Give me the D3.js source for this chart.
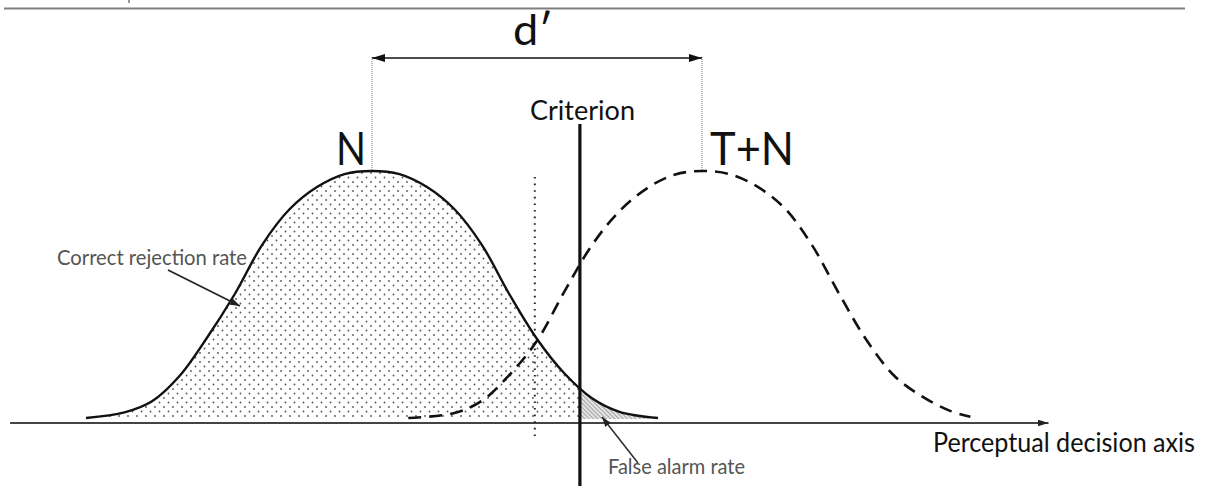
<!DOCTYPE html>
<html>
<head>
<meta charset="utf-8">
<script src="https://cdn.jsdelivr.net/npm/d3@7"></script>
<style>
  html, body { margin: 0; padding: 0; background: #fff; }
  svg { display: block; }
  text { font-family: Lato, "Open Sans", sans-serif; }
</style>
</head>
<body>
<svg id="chart" width="1213" height="486"></svg>
<script>
// decision axis in d' units, density
const noiseX = [-2.6, -2.25, -2, -1.75, -1.5, -1.25, -1, -0.75, -0.5, -0.25, 0, 0.25, 0.5, 0.75, 1, 1.25, 1.5, 1.75, 2, 2.25, 2.6];
const noiseY = [0, 0.009, 0.027, 0.068, 0.13, 0.2, 0.28, 0.338, 0.374, 0.395, 0.4, 0.395, 0.374, 0.338, 0.28, 0.2, 0.128, 0.072, 0.032, 0.01, 0];

const signalX = [0.33, 0.75, 1, 1.25, 1.5, 1.75, 2, 2.25, 2.5, 2.75, 3, 3.25, 3.5, 3.75, 4, 4.25, 4.5, 4.75, 5, 5.25, 5.44];
const signalY = [0, 0.008, 0.028, 0.07, 0.125, 0.205, 0.28, 0.335, 0.372, 0.394, 0.4, 0.395, 0.375, 0.34, 0.28, 0.2, 0.125, 0.068, 0.035, 0.012, 0.002];

const means = [0, 3];          // N, T+N
const criterion = 1.89;
const neutralCriterion = 1.48; // dotted line
const axisExtent = [-3.29, 6.15];

const labels = {
  dprime: "d\u2032",
  noise: "N",
  signal: "T+N",
  criterion: "Criterion",
  axis: "Perceptual decision axis",
  correct: "Correct rejection rate",
  falseAlarm: "False alarm rate"
};

const svg = d3.select("#chart");
const x = d3.scaleLinear().domain([0, 3]).range([372, 702]);
const y = d3.scaleLinear().domain([0, 0.4]).range([418, 171]);

const noise = noiseX.map((v, i) => ({ x: v, y: noiseY[i] }));
const signal = signalX.map((v, i) => ({ x: v, y: signalY[i] }));

const defs = svg.append("defs");

// dotted fill
const dots = defs.append("pattern")
  .attr("id", "dots").attr("patternUnits", "userSpaceOnUse")
  .attr("width", 9).attr("height", 9);
dots.append("circle").attr("cx", 2).attr("cy", 2).attr("r", 0.9).attr("fill", "#555");
dots.append("circle").attr("cx", 6.5).attr("cy", 6.5).attr("r", 0.9).attr("fill", "#555");

// hatch fill
const hatch = defs.append("pattern")
  .attr("id", "hatch").attr("patternUnits", "userSpaceOnUse")
  .attr("width", 3).attr("height", 3)
  .attr("patternTransform", "rotate(-45)");
hatch.append("rect").attr("width", 3).attr("height", 3).attr("fill", "#e4e4e4");
hatch.append("line").attr("x1", 0).attr("y1", 0).attr("x2", 0).attr("y2", 3)
  .attr("stroke", "#777").attr("stroke-width", 1.2);

function marker(id, w, h, color) {
  defs.append("marker")
    .attr("id", id)
    .attr("viewBox", `0 0 ${w} ${h}`)
    .attr("refX", w).attr("refY", h / 2)
    .attr("markerWidth", w).attr("markerHeight", h)
    .attr("markerUnits", "userSpaceOnUse")
    .attr("orient", "auto-start-reverse")
    .append("path")
    .attr("d", `M0,0L${w},${h / 2}L0,${h}Z`)
    .attr("fill", color);
}
marker("arrowBig", 13, 8, "#111");
marker("arrowAxis", 11, 7, "#222");
marker("arrowSmall", 10, 7, "#222");

defs.append("clipPath").attr("id", "leftOfCrit")
  .append("rect").attr("x", 0).attr("y", 0).attr("width", x(criterion)).attr("height", 486);
defs.append("clipPath").attr("id", "rightOfCrit")
  .append("rect").attr("x", x(criterion)).attr("y", 0).attr("width", 1213).attr("height", 486);

// page rule at the top
svg.append("line")
  .attr("x1", 4).attr("x2", 1185).attr("y1", 8.5).attr("y2", 8.5)
  .attr("stroke", "#808080").attr("stroke-width", 2);
svg.append("line")
  .attr("x1", 129).attr("x2", 129).attr("y1", 0).attr("y2", 3)
  .attr("stroke", "#999").attr("stroke-width", 2);

const area = d3.area()
  .x(d => x(d.x)).y0(y(0) + 1).y1(d => y(d.y))
  .curve(d3.curveCatmullRom);
const line = d3.line()
  .x(d => x(d.x)).y(d => y(d.y))
  .curve(d3.curveCatmullRom);

svg.append("path").datum(noise)
  .attr("d", area).attr("fill", "url(#dots)")
  .attr("clip-path", "url(#leftOfCrit)");
svg.append("path").datum(noise)
  .attr("d", area).attr("fill", "url(#hatch)")
  .attr("clip-path", "url(#rightOfCrit)");

// decision axis
svg.append("line")
  .attr("x1", x(axisExtent[0])).attr("x2", x(axisExtent[1]))
  .attr("y1", y(0) + 5).attr("y2", y(0) + 5)
  .attr("stroke", "#444").attr("stroke-width", 1.8)
  .attr("marker-end", "url(#arrowAxis)");

// dotted neutral criterion
svg.append("line")
  .attr("x1", x(neutralCriterion)).attr("x2", x(neutralCriterion))
  .attr("y1", 177).attr("y2", 436)
  .attr("stroke", "#222").attr("stroke-width", 2)
  .attr("stroke-dasharray", "1.6,5");

// curves
svg.append("path").datum(noise)
  .attr("d", line).attr("fill", "none")
  .attr("stroke", "#111").attr("stroke-width", 2.4);
svg.append("path").datum(signal)
  .attr("d", line).attr("fill", "none")
  .attr("stroke", "#111").attr("stroke-width", 2.6)
  .attr("stroke-dasharray", "13,8");

// criterion line
svg.append("line")
  .attr("x1", x(criterion)).attr("x2", x(criterion))
  .attr("y1", 124).attr("y2", 486)
  .attr("stroke", "#111").attr("stroke-width", 3.2);

// d' bracket
means.forEach(m => {
  svg.append("line")
    .attr("x1", x(m)).attr("x2", x(m))
    .attr("y1", 57).attr("y2", y(0.4))
    .attr("stroke", "#777").attr("stroke-width", 1)
    .attr("stroke-dasharray", "1,1");
});
svg.append("line")
  .attr("x1", x(means[0])).attr("x2", x(means[1]))
  .attr("y1", 58).attr("y2", 58)
  .attr("stroke", "#111").attr("stroke-width", 1.6)
  .attr("marker-start", "url(#arrowBig)")
  .attr("marker-end", "url(#arrowBig)");

function label(txt, px, py, size, len, color) {
  return svg.append("text")
    .attr("x", px).attr("y", py)
    .attr("font-size", size)
    .attr("fill", color || "#111")
    .attr("textLength", len)
    .attr("lengthAdjust", "spacingAndGlyphs")
    .text(txt);
}

label(labels.dprime, 513, 45, 42, 40);
label(labels.noise, 336, 165, 46, 30);
label(labels.signal, 710, 165, 46, 84);
label(labels.criterion, 530, 120, 26, 105);
label(labels.axis, 933, 452, 26, 262);
label(labels.correct, 57, 265, 21, 190, "#555");
label(labels.falseAlarm, 608, 474, 21, 137, "#555");

// annotation arrows
svg.append("line")
  .attr("x1", 168).attr("y1", 270).attr("x2", 240).attr("y2", 306)
  .attr("stroke", "#222").attr("stroke-width", 1.6)
  .attr("marker-end", "url(#arrowSmall)");
svg.append("line")
  .attr("x1", 638).attr("y1", 463).attr("x2", 602).attr("y2", 417)
  .attr("stroke", "#333").attr("stroke-width", 1.6)
  .attr("marker-end", "url(#arrowSmall)");
</script>
</body>
</html>
